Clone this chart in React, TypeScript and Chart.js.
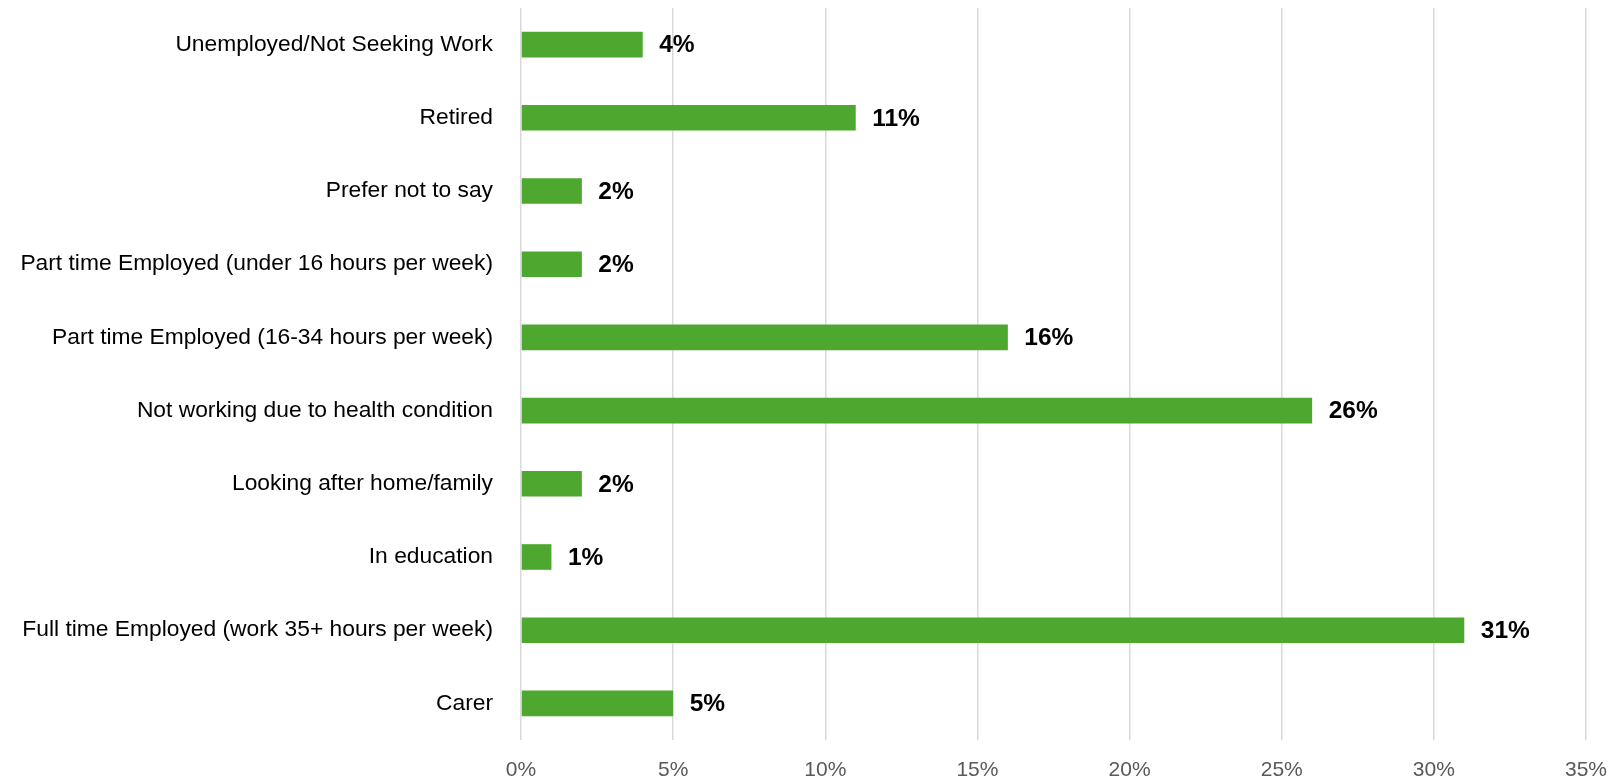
import React, { useEffect, useRef } from "react";
import { Chart, registerables } from "chart.js";

Chart.register(...registerables);

const categories: string[] = [
  "Unemployed/Not Seeking Work",
  "Retired",
  "Prefer not to say",
  "Part time Employed (under 16 hours per week)",
  "Part time Employed (16-34 hours per week)",
  "Not working due to health condition",
  "Looking after home/family",
  "In education",
  "Full time Employed (work 35+ hours per week)",
  "Carer",
];

const values: number[] = [4, 11, 2, 2, 16, 26, 2, 1, 31, 5];

const xTickMin = 0;
const xTickMax = 35;
const xTickStep = 5;

const BAR_COLOR = "#4EA72E";
const GRID_COLOR = "#D9D9D9";
const TICK_COLOR = "#595959";

const dataLabelPlugin = {
  id: "dataLabels",
  afterDatasetsDraw(chart: any) {
    const ctx = chart.ctx;
    const meta = chart.getDatasetMeta(0);
    ctx.save();
    ctx.font = "bold 24.5px 'Liberation Sans', Arial, sans-serif";
    ctx.fillStyle = "#000000";
    ctx.textAlign = "left";
    ctx.textBaseline = "middle";
    meta.data.forEach((bar: any, i: number) => {
      const v = chart.data.datasets[0].data[i];
      ctx.fillText(v + "%", bar.x + 16.5, bar.y + 1);
    });
    ctx.restore();
  },
};

export default function App() {
  const canvasRef = useRef<HTMLCanvasElement | null>(null);

  useEffect(() => {
    if (!canvasRef.current) return;
    const chart = new Chart(canvasRef.current, {
      type: "bar",
      data: {
        labels: categories,
        datasets: [
          {
            data: values,
            backgroundColor: BAR_COLOR,
            borderWidth: 0,
            barPercentage: 0.7,
            categoryPercentage: 0.5,
          },
        ],
      },
      options: {
        indexAxis: "y",
        responsive: true,
        maintainAspectRatio: false,
        animation: false,
        layout: { padding: { top: 8, right: 31, bottom: 0, left: 0 } },
        plugins: {
          legend: { display: false },
          tooltip: { enabled: false },
        },
        scales: {
          x: {
            min: xTickMin,
            max: xTickMax,
            border: { display: false },
            grid: { color: GRID_COLOR, lineWidth: 1.5, drawTicks: false },
            afterFit: (scale: any) => {
              scale.height = 43;
              scale.paddingLeft = 0;
              scale.paddingRight = 0;
              scale.paddingTop = 0;
              scale.paddingBottom = 0;
            },
            ticks: {
              stepSize: xTickStep,
              padding: 18,
              color: TICK_COLOR,
              font: { family: "'Liberation Sans', Arial, sans-serif", size: 21 },
              callback: (v: any) => v + "%",
            },
          },
          y: {
            border: { display: false },
            grid: { display: false, drawTicks: false },
            afterFit: (scale: any) => {
              scale.width = 521;
              scale.paddingTop = 0;
              scale.paddingBottom = 0;
              scale.paddingLeft = 0;
              scale.paddingRight = 0;
            },
            ticks: {
              padding: 28,
              color: "#000000",
              autoSkip: false,
              font: { family: "'Liberation Sans', Arial, sans-serif", size: 22.8 },
            },
          },
        },
      },
      plugins: [dataLabelPlugin],
    });
    return () => chart.destroy();
  }, []);

  return (
    <div style={{ position: "absolute", left: 0, top: 0, width: 1617, height: 783, background: "#fff" }}>
      <canvas ref={canvasRef} />
    </div>
  );
}
